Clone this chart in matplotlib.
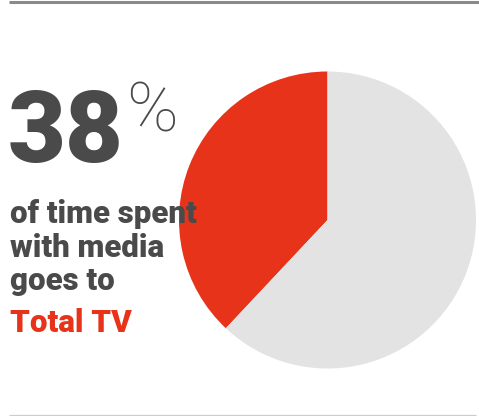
import matplotlib
matplotlib.use("Agg")
import matplotlib.pyplot as plt

# Share of media time
categories = ["Total TV", "Other media"]
shares = [38, 62]
colors = ["#E6331A", "#E3E3E3"]

headline = "38"
caption_lines = ["of time spent", "with media", "goes to"]
highlight = "Total TV"

W, H = 479, 416
DPI = 100
fig = plt.figure(figsize=(W / DPI, H / DPI), dpi=DPI)
fig.patch.set_facecolor("white")

# Pie in its own square axes (pixel geometry converted to figure fractions)
cx, cy, r = 327.5, 220, 148.5
pie_ax = fig.add_axes([(cx - r) / W, 1 - (cy + r) / H, 2 * r / W, 2 * r / H])
pie_ax.pie(shares, colors=colors, startangle=90, counterclock=True,
           radius=1, wedgeprops=dict(linewidth=0))
pie_ax.set_xlim(-1, 1)
pie_ax.set_ylim(-1, 1)
pie_ax.set_aspect("equal")
pie_ax.axis("off")

# Overlay in pixel coordinates for text and rules
ov = fig.add_axes([0, 0, 1, 1], zorder=5)
ov.set_xlim(0, W)
ov.set_ylim(H, 0)
ov.axis("off")
ov.patch.set_alpha(0)

ov.plot([9, W], [2, 2], color="#8A8A8A", lw=2.2, solid_capstyle="butt")
ov.plot([9, 476], [414.5, 414.5], color="#CCCCCC", lw=0.9, solid_capstyle="butt")

dark = "#4A4A4A"
fam = ["Roboto", "DejaVu Sans"]
ov.text(8, 162, headline, fontsize=72, fontweight="heavy", color=dark,
        family=fam, va="baseline", ha="left")
ov.text(126, 131, "%", fontsize=50, fontweight="light", color=dark,
        family=fam, va="baseline", ha="left")

baselines = [223, 257, 290]
for y, line in zip(baselines, caption_lines):
    ov.text(10, y, line, fontsize=22.5, fontweight="heavy", color=dark,
            family=fam, va="baseline", ha="left")
ov.text(10, 332, highlight, fontsize=22.5, fontweight="heavy", color=colors[0],
        family=fam, va="baseline", ha="left")

fig.savefig("out.png", dpi=DPI, facecolor="white")
